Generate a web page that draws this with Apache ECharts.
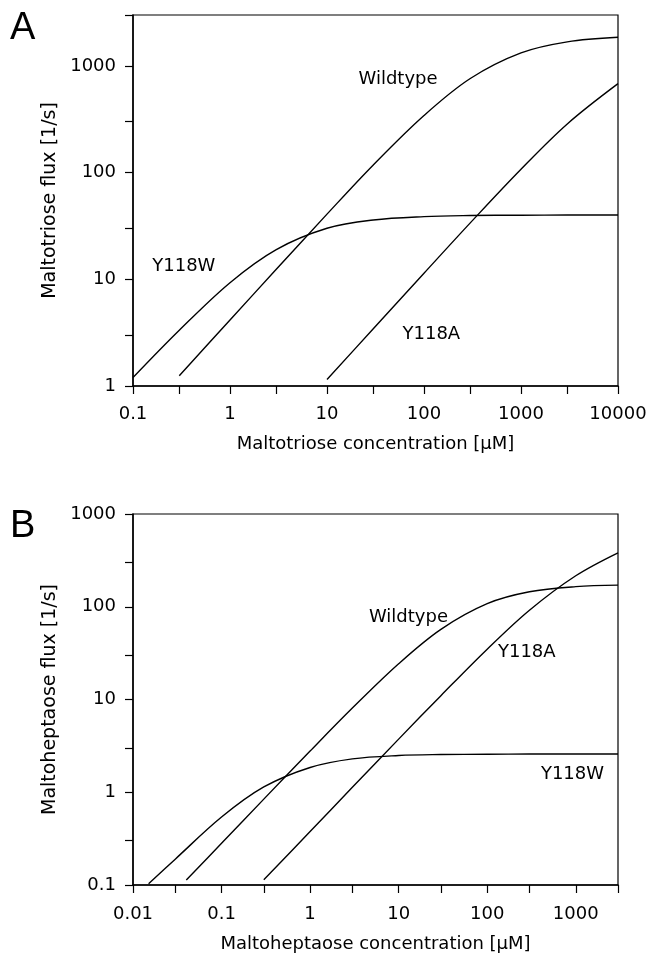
<!DOCTYPE html>
<html><head><meta charset="utf-8">
<script src="https://cdn.jsdelivr.net/npm/echarts@6/dist/echarts.min.js"></script>
<style>html,body{margin:0;padding:0;background:#fff}#c{width:650px;height:954px}</style>
</head><body><div id="c"></div>
<script>
// ---------- Panel A: maltotriose ----------
const wtA_x   = [0.3, 1, 3, 10, 30, 100, 300, 1000, 3000, 10000];
const wtA_y   = [1.25, 4.16, 12.4, 40.8, 118, 343, 762, 1324, 1680, 1854];
const w118A_x = [0.1, 0.3, 1, 3, 10, 30, 100, 300, 1000, 3000, 10000];
const w118A_y = [1.2, 3.33, 9.3, 19.0, 30.1, 36.0, 38.7, 39.6, 39.9, 40.0, 40.0];
const a118A_x = [10, 30, 100, 300, 1000, 3000, 10000];
const a118A_y = [1.15, 3.44, 11.4, 33.8, 107.6, 286, 682];

// ---------- Panel B: maltoheptaose ----------
const wtB_x   = [0.04, 0.1, 0.3, 1, 3, 10, 30, 100, 300, 1000, 3000];
const wtB_y   = [0.113, 0.282, 0.843, 2.78, 8.08, 24.3, 57.1, 108, 145, 164.8, 171];
const w118B_x = [0.015, 0.03, 0.1, 0.3, 1, 3, 10, 30, 100, 300, 1000, 3000];
const w118B_y = [0.103, 0.19, 0.54, 1.14, 1.85, 2.29, 2.49, 2.55, 2.57, 2.58, 2.58, 2.58];
const a118B_x = [0.3, 1, 3, 10, 30, 100, 300, 1000, 3000];
const a118B_y = [0.114, 0.377, 1.13, 3.74, 11.0, 34.9, 91.8, 216, 382];

// ---------- axes ticks / labels ----------
const xTicksA  = [0.1, 0.3, 1, 3, 10, 30, 100, 300, 1000, 3000, 10000];
const xLabelsA = [0.1, 1, 10, 100, 1000, 10000];
const yTicksA  = [1, 3, 10, 30, 100, 300, 1000, 3000];
const yLabelsA = [1, 10, 100, 1000];
const xTicksB  = [0.01, 0.03, 0.1, 0.3, 1, 3, 10, 30, 100, 300, 1000, 3000];
const xLabelsB = [0.01, 0.1, 1, 10, 100, 1000];
const yTicksB  = [0.1, 0.3, 1, 3, 10, 30, 100, 300, 1000];
const yLabelsB = [0.1, 1, 10, 100, 1000];

// ---------- curve annotations (name, x, y in data units) ----------
const notesA = [['Wildtype', 54, 750], ['Y118W', 0.334, 13.2], ['Y118A', 119, 3.05]];
const notesB = [['Wildtype', 12.9, 76.6], ['Y118A', 280, 32.3], ['Y118W', 918, 1.57]];

const FONT = '"DejaVu Sans", sans-serif';
const INK = '#000';
const zip = (xs, ys) => xs.map((x, i) => [x, ys[i]]);
const fmt = v => String(+(+v).toPrecision(6));

function xAxis(grid, min, max, name, nameGap, ticks, labels, margin) {
  return {
    type: 'log', logBase: 10, gridIndex: grid, min, max,
    name, nameLocation: 'middle', nameGap,
    nameTextStyle: { fontFamily: FONT, fontSize: 18, color: INK },
    axisLine: { show: true, onZero: false, lineStyle: { color: INK, width: 1.5 } },
    axisTick: { show: true, inside: false, length: 8, lineStyle: { color: INK, width: 1.2 }, customValues: ticks },
    axisLabel: { fontFamily: FONT, fontSize: 18, color: INK, margin, customValues: labels, formatter: fmt },
    splitLine: { show: false }
  };
}
function yAxis(grid, min, max, name, nameGap, ticks, labels) {
  return {
    type: 'log', logBase: 10, gridIndex: grid, min, max,
    name, nameLocation: 'middle', nameGap,
    nameTextStyle: { fontFamily: FONT, fontSize: 19, color: INK },
    axisLine: { show: true, onZero: false, lineStyle: { color: INK, width: 1.5 } },
    axisTick: { show: true, inside: false, length: 8, lineStyle: { color: INK, width: 1.2 }, customValues: ticks },
    axisLabel: { fontFamily: FONT, fontSize: 18, color: INK, margin: 17, customValues: labels, formatter: fmt },
    splitLine: { show: false }
  };
}
function curve(grid, xs, ys) {
  return {
    type: 'line', xAxisIndex: grid, yAxisIndex: grid, data: zip(xs, ys),
    showSymbol: false, smooth: 0.35, silent: true,
    lineStyle: { color: INK, width: 1.4 }
  };
}
function notes(grid, list) {
  return {
    type: 'scatter', xAxisIndex: grid, yAxisIndex: grid, symbolSize: 0, silent: true, z: 5,
    itemStyle: { color: INK, opacity: 1 },
    data: list.map(n => ({ name: n[0], value: [n[1], n[2]] })),
    label: { show: true, position: 'inside', formatter: '{b}', fontFamily: FONT, fontSize: 18,
             color: INK, opacity: 1, textBorderWidth: 0, textBorderColor: 'transparent' },
    emphasis: { disabled: true }
  };
}

const chart = echarts.init(document.getElementById('c'), null, { renderer: 'canvas' });
chart.setOption({
  backgroundColor: '#fff',
  animation: false,
  grid: [
    { left: 133, right: 32, top: 15, height: 371, show: true, borderColor: INK, borderWidth: 1.2, backgroundColor: 'transparent' },
    { left: 133, right: 32, top: 514, height: 374, show: true, borderColor: INK, borderWidth: 1.2, backgroundColor: 'transparent' }
  ],
  xAxis: [
    xAxis(0, 0.1, 10000, 'Maltotriose concentration [μM]', 49, xTicksA, xLabelsA, 19),
    xAxis(1, 0.01, 3000, 'Maltoheptaose concentration [μM]', 50, xTicksB, xLabelsB, 20)
  ],
  yAxis: [
    yAxis(0, 1, 3000, 'Maltotriose flux [1/s]', 71, yTicksA, yLabelsA),
    yAxis(1, 0.1, 1000, 'Maltoheptaose flux [1/s]', 67, yTicksB, yLabelsB)
  ],
  graphic: [
    { type: 'text', left: 10, top: 10, style: { text: 'A', font: '38px "Liberation Sans", Arial, sans-serif', fill: INK } },
    { type: 'text', left: 10, top: 508, style: { text: 'B', font: '38px "Liberation Sans", Arial, sans-serif', fill: INK } }
  ],
  series: [
    curve(0, wtA_x, wtA_y), curve(0, w118A_x, w118A_y), curve(0, a118A_x, a118A_y),
    curve(1, wtB_x, wtB_y), curve(1, w118B_x, w118B_y), curve(1, a118B_x, a118B_y),
    notes(0, notesA), notes(1, notesB)
  ]
});
</script>
</body></html>
